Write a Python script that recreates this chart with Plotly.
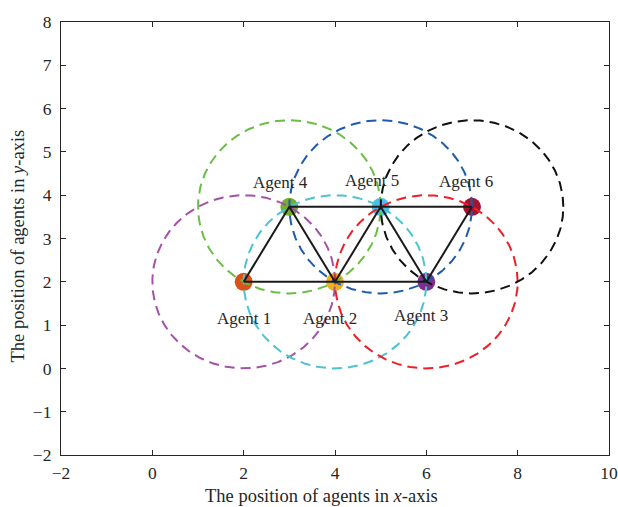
import numpy as np
import plotly.graph_objects as go

# Data
agent_names = ["Agent 1", "Agent 2", "Agent 3", "Agent 4", "Agent 5", "Agent 6"]
agent_x = [2, 4, 6, 3, 5, 7]
agent_y = [2, 2, 2, 3.732, 3.732, 3.732]
sensing_radius = [2, 2, 2, 2, 2, 2]
edges = [(0, 1), (1, 2), (0, 3), (3, 1), (1, 4), (4, 2), (2, 5), (3, 4), (4, 5)]
x_ticks = [-2, 0, 2, 4, 6, 8, 10]
y_ticks = [-2, -1, 0, 1, 2, 3, 4, 5, 6, 7, 8]
x_title = "The position of agents in <i>x</i>-axis"
y_title = "The position of agents in <i>y</i>-axis"

marker_colors = ["#D95319", "#EDB120", "#7E2F8E", "#77AC30", "#4DBEEE", "#A2142F"]
circle_colors = ["#A352A8", "#4DC3CF", "#EE1F26", "#6ABD45", "#1F5BAD", "#111111"]
label_dx = [0.0, -0.1, -0.12, -0.2, -0.2, -0.13]
label_dy = [-0.85, -0.85, -0.78, 0.55, 0.6, 0.58]

FONT = "Liberation Serif, Times New Roman, serif"
TXT = "#262626"

fig = go.Figure()

# Agent markers (bottom layer)
for i in range(len(agent_names)):
    fig.add_trace(go.Scatter(x=[agent_x[i]], y=[agent_y[i]], mode="markers",
                             marker=dict(size=18, color=marker_colors[i], line=dict(width=0)),
                             showlegend=False, hoverinfo="skip"))

# Sensing circles
t = np.linspace(0, 2 * np.pi, 361)
for i in range(len(agent_names)):
    fig.add_trace(go.Scatter(x=agent_x[i] + sensing_radius[i] * np.cos(t),
                             y=agent_y[i] + sensing_radius[i] * np.sin(t),
                             mode="lines",
                             line=dict(color=circle_colors[i], width=2, dash="10px,6px"),
                             showlegend=False, hoverinfo="skip"))

# Communication edges
for a, b in edges:
    fig.add_trace(go.Scatter(x=[agent_x[a], agent_x[b]], y=[agent_y[a], agent_y[b]],
                             mode="lines", line=dict(color="#1a1a1a", width=2),
                             showlegend=False, hoverinfo="skip"))

for i, name in enumerate(agent_names):
    fig.add_annotation(x=agent_x[i] + label_dx[i], y=agent_y[i] + label_dy[i], text=name,
                       showarrow=False, font=dict(family=FONT, size=17, color=TXT),
                       xanchor="center", yanchor="middle")

# Axis titles (as annotations to match the original placement)
fig.add_annotation(xref="paper", yref="paper", x=0.476, y=0, yshift=-41, text=x_title,
                   showarrow=False, xanchor="center", yanchor="middle",
                   font=dict(family=FONT, size=18.5, color=TXT))
fig.add_annotation(xref="paper", yref="paper", x=0, xshift=-43, y=0.4815, text=y_title,
                   showarrow=False, xanchor="center", yanchor="middle", textangle=-90,
                   font=dict(family=FONT, size=18.5, color=TXT))

axis_common = dict(showgrid=False, zeroline=False, showline=True, linecolor=TXT, linewidth=1.2,
                   mirror="ticks", ticks="inside", ticklen=5, tickcolor=TXT, tickwidth=1.2,
                   automargin=False,
                   tickfont=dict(family=FONT, size=17.5, color=TXT))

fig.update_layout(
    width=618, height=507,
    margin=dict(l=61, r=9, t=22, b=52),
    paper_bgcolor="white", plot_bgcolor="white",
    xaxis=dict(range=[-2, 10], tickvals=x_ticks, ticktext=[str(v).replace("-", "\u2212") for v in x_ticks],
               ticklabelstandoff=2, **axis_common),
    yaxis=dict(range=[-2, 8], tickvals=y_ticks, ticktext=[str(v).replace("-", "\u2212") for v in y_ticks],
               ticklabelstandoff=5, **axis_common),
)

fig.write_html("out.html")
